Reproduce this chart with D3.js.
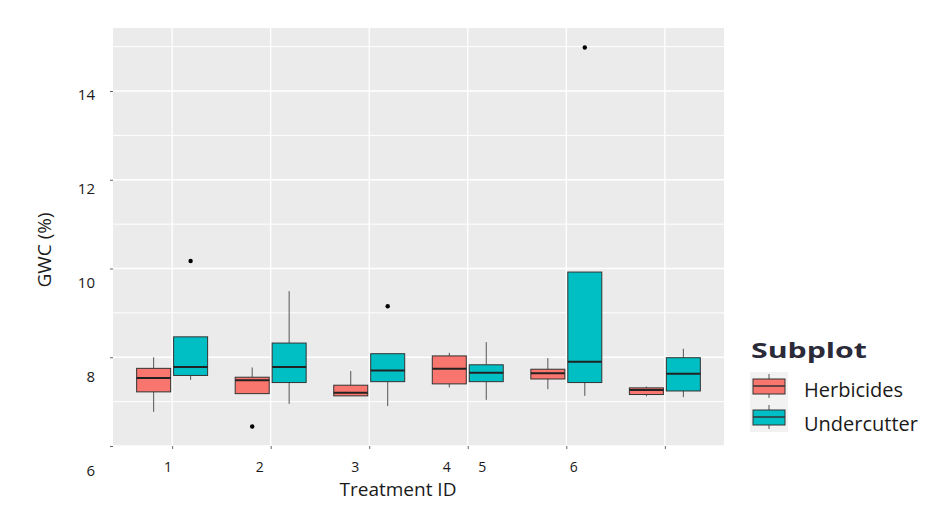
<!DOCTYPE html>
<html>
<head>
<meta charset="utf-8">
<script src="https://cdn.jsdelivr.net/npm/d3@7"></script>
<style>
  body { margin: 0; background: #fff; }
  text { font-family: "Open Sans", "Noto Sans", sans-serif; }
</style>
</head>
<body>
<div id="chart"></div>
<script>
// ================================ data
var treatments = ["1", "2", "3", "4", "5", "6"];
var subplots = ["Herbicides", "Undercutter"];

// [lower whisker, Q1, median, Q3, upper whisker]
var herbicidesStats = [
  [6.77, 7.22, 7.53, 7.75, 8.00],
  [7.18, 7.18, 7.48, 7.55, 7.77],
  [7.13, 7.13, 7.20, 7.37, 7.69],
  [7.32, 7.40, 7.74, 8.03, 8.10],
  [7.28, 7.51, 7.64, 7.73, 7.98],
  [7.12, 7.16, 7.26, 7.31, 7.34]
];
var undercutterStats = [
  [7.49, 7.59, 7.78, 8.46, 8.46],
  [6.95, 7.43, 7.78, 8.32, 9.49],
  [6.90, 7.45, 7.70, 8.08, 8.08],
  [7.04, 7.45, 7.65, 7.83, 8.34],
  [7.13, 7.43, 7.90, 9.92, 9.92],
  [7.10, 7.24, 7.63, 7.99, 8.19]
];
// [treatment, value]
var herbicidesOutliers = [["2", 6.44]];
var undercutterOutliers = [["1", 10.17], ["3", 9.15], ["5", 14.98]];

var yTicks = [6, 8, 10, 12, 14];
var yMinor = [7, 9, 11, 13, 15];

// ================================ layout
var svgWidth = 948;
var svgHeight = 511;
var panel = { left: 113, right: 724, top: 28, bottom: 446 };
var colors = { Herbicides: "#F8766D", Undercutter: "#00BFC4" };
// the tick labels in the picture sit a bit off their ticks
var xLabelNudge = [-4, -11, -14, -21, -84, -91];

var svg = d3.select("#chart")
  .append("svg")
  .attr("width", svgWidth)
  .attr("height", svgHeight);

var x = d3.scalePoint()
  .domain(treatments)
  .range([panel.left, panel.right])
  .padding(0.6);
var step = x.step();

var y = d3.scaleLinear()
  .domain([6, 15.42])
  .range([panel.bottom, panel.top]);

// labels of the y axis are spread slightly wider than the ticks
var yLabel = d3.scaleLinear()
  .domain([6, 14])
  .range([471, 95]);

// panel background
svg.append("rect")
  .attr("x", panel.left)
  .attr("y", panel.top)
  .attr("width", panel.right - panel.left)
  .attr("height", panel.bottom - panel.top)
  .attr("fill", "#EBEBEB");

// grid
svg.append("g").selectAll("line")
  .data(yMinor.filter(d => y(d) > panel.top))
  .enter().append("line")
  .attr("x1", panel.left).attr("x2", panel.right)
  .attr("y1", d => y(d)).attr("y2", d => y(d))
  .attr("stroke", "#fff").attr("stroke-width", 1);

svg.append("g").selectAll("line")
  .data(yTicks)
  .enter().append("line")
  .attr("x1", panel.left).attr("x2", panel.right)
  .attr("y1", d => y(d)).attr("y2", d => y(d))
  .attr("stroke", "#fff").attr("stroke-width", 1.3);

svg.append("g").selectAll("line")
  .data(treatments)
  .enter().append("line")
  .attr("x1", d => x(d)).attr("x2", d => x(d))
  .attr("y1", panel.top).attr("y2", panel.bottom)
  .attr("stroke", "#fff").attr("stroke-width", 1.3);

// axes (ticks only, labels placed below)
var leftAxis = d3.axisLeft(y).tickValues(yTicks).tickSize(3).tickFormat("");
svg.append("g")
  .attr("transform", `translate(${panel.left}, 0)`)
  .call(leftAxis)
  .call(g => g.select(".domain").remove())
  .call(g => g.selectAll(".tick line").attr("stroke", "#666"));

var bottomAxis = d3.axisBottom(x).tickSize(3).tickFormat("");
svg.append("g")
  .attr("transform", `translate(0, ${panel.bottom})`)
  .call(bottomAxis)
  .call(g => g.select(".domain").remove())
  .call(g => g.selectAll(".tick line").attr("stroke", "#666"));

svg.append("g").selectAll("text")
  .data(yTicks)
  .enter().append("text")
  .attr("x", 95)
  .attr("y", d => yLabel(d))
  .attr("dy", "0.35em")
  .attr("text-anchor", "end")
  .attr("font-size", 15)
  .attr("fill", "#1a1a1a")
  .text(d => d);

svg.append("g").selectAll("text")
  .data(treatments)
  .enter().append("text")
  .attr("x", (d, i) => x(d) + xLabelNudge[i])
  .attr("y", 467)
  .attr("dy", "0.35em")
  .attr("text-anchor", "middle")
  .attr("font-size", 14)
  .attr("fill", "#1a1a1a")
  .text(d => d);

// axis titles
svg.append("text")
  .attr("transform", "translate(44, 250) rotate(-90)")
  .attr("dy", "0.35em")
  .attr("text-anchor", "middle")
  .attr("font-size", 19)
  .attr("fill", "#1a1a1a")
  .text("GWC (%)");

svg.append("text")
  .attr("x", 398)
  .attr("y", 489)
  .attr("dy", "0.35em")
  .attr("text-anchor", "middle")
  .attr("font-size", 19)
  .attr("fill", "#1a1a1a")
  .text("Treatment ID");

// ================================ boxes
var boxW = step * 0.345;
var offsets = { Herbicides: -step * 0.1875, Undercutter: step * 0.1875 };

function drawBoxes(stats, name) {
  var rows = stats.map((s, i) => ({ t: treatments[i], s: s }));
  var g = svg.append("g").selectAll("g")
    .data(rows)
    .enter().append("g")
    .attr("transform", d => `translate(${x(d.t) + offsets[name]}, 0)`);

  g.append("line")
    .attr("x1", 0).attr("x2", 0)
    .attr("y1", d => y(d.s[4])).attr("y2", d => y(d.s[3]))
    .attr("stroke", "#555").attr("stroke-width", 1);
  g.append("line")
    .attr("x1", 0).attr("x2", 0)
    .attr("y1", d => y(d.s[1])).attr("y2", d => y(d.s[0]))
    .attr("stroke", "#555").attr("stroke-width", 1);

  g.append("rect")
    .attr("x", -boxW / 2)
    .attr("width", boxW)
    .attr("y", d => y(d.s[3]))
    .attr("height", d => y(d.s[1]) - y(d.s[3]))
    .attr("fill", colors[name])
    .attr("stroke", "#333")
    .attr("stroke-width", 1);

  g.append("line")
    .attr("x1", -boxW / 2).attr("x2", boxW / 2)
    .attr("y1", d => y(d.s[2])).attr("y2", d => y(d.s[2]))
    .attr("stroke", "#222").attr("stroke-width", 2);
}

function drawOutliers(points, name) {
  svg.append("g").selectAll("circle")
    .data(points)
    .enter().append("circle")
    .attr("cx", d => x(d[0]) + offsets[name])
    .attr("cy", d => y(d[1]))
    .attr("r", 2.2)
    .attr("fill", "#000");
}

drawBoxes(herbicidesStats, "Herbicides");
drawBoxes(undercutterStats, "Undercutter");
drawOutliers(herbicidesOutliers, "Herbicides");
drawOutliers(undercutterOutliers, "Undercutter");

// ================================ legend
var legend = svg.append("g").attr("transform", "translate(751, 0)");

legend.append("text")
  .attr("x", 0)
  .attr("y", 358)
  .attr("font-size", 21)
  .attr("font-weight", "bold")
  .attr("textLength", 116)
  .attr("lengthAdjust", "spacingAndGlyphs")
  .attr("fill", "#2a2a38")
  .text("Subplot");

legend.append("rect")
  .attr("x", -1).attr("y", 372)
  .attr("width", 38).attr("height", 60)
  .attr("fill", "#F2F2F2");

var keys = legend.selectAll(".key")
  .data(subplots)
  .enter().append("g")
  .attr("class", "key")
  .attr("transform", (d, i) => `translate(0, ${386 + i * 31})`);

keys.append("line")
  .attr("x1", 18).attr("x2", 18)
  .attr("y1", -12).attr("y2", 12)
  .attr("stroke", "#555");
keys.append("rect")
  .attr("x", 2).attr("y", -7)
  .attr("width", 32).attr("height", 15)
  .attr("fill", d => colors[d])
  .attr("stroke", "#333");
keys.append("line")
  .attr("x1", 2).attr("x2", 34)
  .attr("y1", 0).attr("y2", 0)
  .attr("stroke", "#333").attr("stroke-width", 1.5);

keys.append("text")
  .attr("x", 53)
  .attr("y", (d, i) => 4 + i * 3)
  .attr("dy", "0.35em")
  .attr("font-size", 20)
  .attr("fill", "#1a1a1a")
  .text(d => d);
</script>
</body>
</html>
